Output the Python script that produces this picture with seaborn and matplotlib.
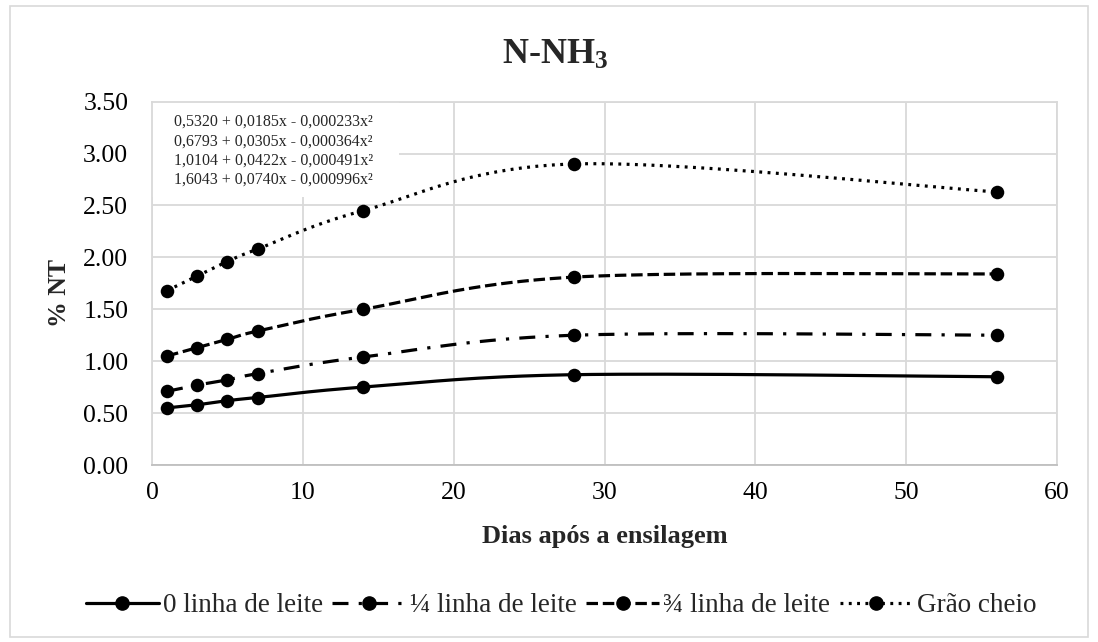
import numpy as np
import pandas as pd
import matplotlib
matplotlib.use("Agg")
import matplotlib.pyplot as plt
from matplotlib.lines import Line2D
from matplotlib.patches import Rectangle
import seaborn as sns

# ---------------- data ----------------
days = [1, 3, 5, 7, 14, 28, 56]
series_names = ["0 linha de leite", "\u00bc linha de leite", "\u00be linha de leite", "Gr\u00e3o cheio"]
v_0 = [0.55, 0.58, 0.62, 0.65, 0.75, 0.87, 0.85]
v_14 = [0.71, 0.77, 0.82, 0.88, 1.04, 1.25, 1.25]
v_34 = [1.05, 1.13, 1.21, 1.29, 1.50, 1.81, 1.84]
v_gc = [1.68, 1.82, 1.96, 2.08, 2.45, 2.90, 2.63]
equations = [
    "0,5320 + 0,0185x - 0,000233x\u00b2",
    "0,6793 + 0,0305x - 0,000364x\u00b2",
    "1,0104 + 0,0422x - 0,000491x\u00b2",
    "1,6043 + 0,0740x - 0,000996x\u00b2",
]
y_ticks = [0.0, 0.5, 1.0, 1.5, 2.0, 2.5, 3.0, 3.5]
x_ticks = [0, 10, 20, 30, 40, 50, 60]

values = [v_0, v_14, v_34, v_gc]

# ---------------- style ----------------
sns.set_theme(style="white")
plt.rcParams["font.family"] = ["Liberation Serif", "DejaVu Serif"]
plt.rcParams["mathtext.fontset"] = "custom"
plt.rcParams["mathtext.rm"] = "Liberation Serif:bold"
plt.rcParams["mathtext.it"] = "Liberation Serif:italic:bold"
plt.rcParams["mathtext.bf"] = "Liberation Serif:bold"

LW = 2.3
styles = {
    series_names[0]: dict(linestyle="-"),
    series_names[1]: dict(linestyle=(0, (5.0, 3.2, 1.0, 3.2))),
    series_names[2]: dict(linestyle=(0, (3.6, 1.5))),
    series_names[3]: dict(linestyle=(0, (0.9, 1.7))),
}


def smooth_path(xs, ys, n=40):
    """Excel-like smoothed line (Catmull-Rom / Bezier) through the data points."""
    P = np.column_stack([xs, ys]).astype(float)
    ext = np.vstack([P[0], P, P[-1]])
    out = []
    t = np.linspace(0, 1, n)
    for i in range(1, len(ext) - 2):
        p0, p1, p2, p3 = ext[i - 1], ext[i], ext[i + 1], ext[i + 2]
        c1 = p1 + (p2 - p0) / 6.0
        c2 = p2 - (p3 - p1) / 6.0
        seg = ((1 - t) ** 3)[:, None] * p1 + (3 * (1 - t) ** 2 * t)[:, None] * c1 \
            + (3 * (1 - t) * t ** 2)[:, None] * c2 + (t ** 3)[:, None] * p2
        out.append(seg if i == 1 else seg[1:])
    out = np.vstack(out)
    return out[:, 0], out[:, 1]


fig = plt.figure(figsize=(10.98, 6.42), dpi=100)
fig.patch.set_facecolor("white")
fig.patches.append(Rectangle((0.009, 0.008), 0.982, 0.983, transform=fig.transFigure,
                             fill=False, edgecolor="#d9d9d9", lw=1.2))

ax = fig.add_axes([0.1384, 0.2757, 0.8243, 0.5660])

rows = []
for name, vals in zip(series_names, values):
    for d, v in zip(days, vals):
        rows.append({"Dias": d, "NT": v, "Serie": name})
df = pd.DataFrame(rows)

for name in series_names:
    sub = df[df["Serie"] == name]
    sx, sy = smooth_path(sub["Dias"].values, sub["NT"].values)
    sm = pd.DataFrame({"Dias": sx, "NT": sy})
    sns.lineplot(data=sm, x="Dias", y="NT", ax=ax, sort=False, estimator=None,
                 color="black", lw=LW, dash_capstyle="butt", zorder=3,
                 **styles[name])
    sns.scatterplot(data=sub, x="Dias", y="NT", ax=ax, color="black", s=95,
                    edgecolor="black", linewidth=0, zorder=4)

ax.set_xlim(0, 60)
ax.set_ylim(0, 3.5)
ax.set_xticks(x_ticks)
ax.set_yticks(y_ticks)
ax.set_yticklabels([f"{v:.2f}" for v in y_ticks])
ax.set_xticklabels([str(v) for v in x_ticks])
ax.grid(True, color="#d9d9d9", lw=1.3)
ax.set_axisbelow(True)
for s in ["top", "right", "left"]:
    ax.spines[s].set_color("#d9d9d9")
    ax.spines[s].set_linewidth(1.3)
ax.spines["bottom"].set_color("#bfbfbf")
ax.spines["bottom"].set_linewidth(1.3)
ax.tick_params(axis="both", length=0, labelsize=18.5, colors="black")
ax.tick_params(axis="y", pad=17)
ax.tick_params(axis="x", pad=12)
ax.set_xlabel("")
ax.set_ylabel("")

fig.text(0.5 * (0.1384 + 0.9627), 1 - 536 / 642, "Dias ap\u00f3s a ensilagem",
         ha="center", va="center", fontsize=19, fontweight="bold")
fig.text(60 / 1098, 1 - 293 / 642, "% NT", ha="center", va="center",
         rotation=90, fontsize=18.5, fontweight="bold")
fig.text(555 / 1098, 1 - 55 / 642, r"N-NH$_3$", ha="center", va="center",
         fontsize=26, fontweight="bold")

# equation box
ax.add_patch(Rectangle((0, 1 - 95 / 363.4), 247 / 905, 95 / 363.4, transform=ax.transAxes,
                       facecolor="white", edgecolor="none", zorder=2.5))
for i, eq in enumerate(equations):
    ypx = 122 + i * 19.2
    fig.text(174 / 1098, 1 - ypx / 642, eq, ha="left", va="center", fontsize=11.5,
             zorder=5)

# legend
handles = [Line2D([0], [0], color="black", lw=LW, marker="o", markersize=9.5,
                  dash_capstyle="butt", **styles[n]) for n in series_names]
fig.legend(handles, series_names, loc="center", bbox_to_anchor=(561 / 1098, 1 - 606 / 642),
           ncol=4, frameon=False, fontsize=19.5, handlelength=2.7,
           handletextpad=0.15, columnspacing=0.35)

fig.savefig("out.png", dpi=100, facecolor="white")
